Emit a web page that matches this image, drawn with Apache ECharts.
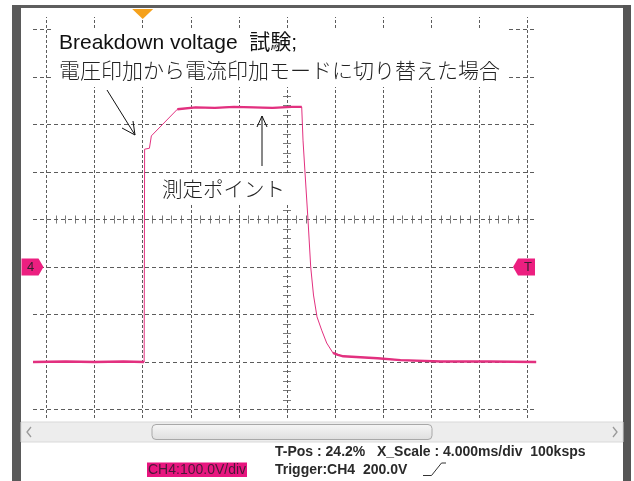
<!DOCTYPE html>
<html><head><meta charset="utf-8">
<script src="https://cdn.jsdelivr.net/npm/echarts@6/dist/echarts.min.js"></script>
<style>html,body{margin:0;padding:0;background:#fff}#c{width:634px;height:481px}</style>
</head><body><div id="c"></div>
<script>
// Trace of CH4: time in divisions (4.000 ms/div), voltage in V (100.0 V/div)
const traceX = [-0.28, 0.4, 1.0, 1.6, 2.03, 2.04, 2.07, 2.14, 2.16, 2.18, 2.72, 3.1, 3.5, 3.9, 4.3, 4.7, 5.1, 5.306, 5.333, 5.374, 5.437, 5.493, 5.551, 5.624, 5.721, 5.825, 5.956, 6.06, 6.17, 6.88, 7.36, 8.2, 9.2, 10.18];
const traceV = [0, 1, 0, 1, 0, 448, 446, 450, 452, 476, 532, 536, 535, 537, 536, 535, 537, 537, 467, 400, 299, 200, 141, 95, 67, 40, 19, 15, 12, 8, 4, 1, 1, 0];

// Graticule
const gridDivX = [0, 1, 2, 3, 4, 5, 6, 7, 8, 9, 10];
const gridLevelV = [-100, 0, 100, 200, 300, 400, 500, 600, 700];
const triggerLevelV = 200;
const triggerTimeDiv = 2;

// Texts
const annotationLine1 = 'Breakdown voltage  試験;';
const annotationLine2 = '電圧印加から電流印加モードに切り替えた場合';
const annotationPoint = '測定ポイント';
const statusLine1 = 'T-Pos : 24.2%   X_Scale : 4.000ms/div  100ksps';
const statusLine2 = 'Trigger:CH4  200.0V';
const channelLabel = 'CH4:100.0V/div';
const channelMarker = '4';
const triggerMarker = 'T';

const PINK = '#e2307f';
const GRIDC = '#5c5c5c';
const TICKC = '#7a7a7a';
const FONT = '"Liberation Sans", Arial, "Noto Sans CJK JP", sans-serif';

const chart = echarts.init(document.getElementById('c'), null, {renderer: 'canvas'});

const traceData = traceX.map((x, i) => [x, traceV[i]]);
const bandData = traceX.map((x, i) => (traceV[i] < 20 || traceV[i] > 525) ? [x, traceV[i]] : [x, null]);

const vLines = gridDivX.map(x => ({xAxis: x, lineStyle: {type: [3, 2], color: GRIDC, width: 1}}));
const hLines = gridLevelV.map(v => ({yAxis: v, lineStyle: {type: [4, 3], color: GRIDC, width: 1}}));

function tickAxis(pos, min, max, gridIndex) {
  return {
    type: 'value', gridIndex, position: pos, min, max, interval: 1,
    axisLine: {show: false, onZero: true},
    axisTick: {show: true, inside: false, length: 4, lineStyle: {color: TICKC, width: 1}},
    minorTick: {show: true, splitNumber: 5, length: 4, lineStyle: {color: TICKC, width: 1}},
    axisLabel: {show: false}, splitLine: {show: false}, minorSplitLine: {show: false}
  };
}

chart.setOption({
  animation: false,
  backgroundColor: '#ffffff',
  grid: [
    {left: 33, top: 17, width: 503, height: 401, containLabel: false},
    {left: 46.5, top: 29.5, width: 481, height: 380, containLabel: false}
  ],
  xAxis: [
    {type: 'value', gridIndex: 0, min: -0.2807, max: 10.177, show: false, splitLine: {show: false}},
    tickAxis('bottom', -5, 5, 1),
    tickAxis('top', -5, 5, 1)
  ],
  yAxis: [
    {type: 'value', gridIndex: 0, min: -117.9, max: 726.3, show: false, splitLine: {show: false}},
    tickAxis('left', -4, 4, 1),
    tickAxis('right', -4, 4, 1)
  ],
  series: [
    {
      type: 'line', name: 'graticule', xAxisIndex: 0, yAxisIndex: 0, data: [], z: 1, silent: true,
      markLine: {silent: true, symbol: ['none', 'none'], label: {show: false}, animation: false,
        data: vLines.concat(hLines)}
    },
    {
      type: 'line', name: 'CH4', xAxisIndex: 0, yAxisIndex: 0, data: traceData, z: 5,
      showSymbol: false, symbol: 'none', lineStyle: {color: PINK, width: 1}
    },
    {
      type: 'line', name: 'CH4 noise', xAxisIndex: 0, yAxisIndex: 0, data: bandData, z: 5,
      showSymbol: false, symbol: 'none', connectNulls: false, lineStyle: {color: PINK, width: 2.4}
    }
  ]
});

const xT = chart.convertToPixel({xAxisIndex: 0}, triggerTimeDiv);
const yT = chart.convertToPixel({yAxisIndex: 0}, triggerLevelV);
const Z = 50;

chart.setOption({
  graphic: [
    // frame
    {type: 'rect', z: Z, shape: {x: 12, y: 5, width: 619, height: 3}, style: {fill: '#5e5e5e'}},
    {type: 'rect', z: Z, shape: {x: 12, y: 5, width: 9, height: 476}, style: {fill: '#5a5a5a'}},
    {type: 'rect', z: Z, shape: {x: 623, y: 5, width: 8, height: 476}, style: {fill: '#555555'}},
    // scrollbar
    {type: 'rect', z: Z, shape: {x: 21, y: 422, width: 602, height: 20}, style: {fill: '#ededed', stroke: '#d9d9d9', lineWidth: 1}},
    {type: 'rect', z: Z + 1, shape: {x: 152, y: 424.5, width: 280, height: 15, r: 4},
      style: {fill: new echarts.graphic.LinearGradient(0, 0, 0, 1, [{offset: 0, color: '#f6f6f6'}, {offset: 1, color: '#dedede'}]), stroke: '#a8a8a8', lineWidth: 1}},
    {type: 'polyline', z: Z + 1, shape: {points: [[31, 427], [27, 432], [31, 437]]}, style: {stroke: '#9a9a9a', lineWidth: 1.3, fill: null}},
    {type: 'polyline', z: Z + 1, shape: {points: [[613, 427], [617, 432], [613, 437]]}, style: {stroke: '#9a9a9a', lineWidth: 1.3, fill: null}},
    // annotation boxes
    {type: 'rect', z: Z, shape: {x: 51, y: 28, width: 456, height: 59}, style: {fill: '#ffffff'}},
    {type: 'rect', z: Z, shape: {x: 155, y: 175, width: 136, height: 30}, style: {fill: '#ffffff'}},
    {type: 'text', z: Z + 1, style: {text: annotationLine1, x: 59, y: 43, font: '21px ' + FONT, fill: '#111111', align: 'left', verticalAlign: 'middle'}},
    {type: 'text', z: Z + 1, style: {text: annotationLine2, x: 59, y: 72, font: '300 21px ' + FONT, fill: '#222222', align: 'left', verticalAlign: 'middle'}},
    {type: 'text', z: Z + 1, style: {text: annotationPoint, x: 162, y: 191, font: '300 20.5px ' + FONT, fill: '#222222', align: 'left', verticalAlign: 'middle'}},
    // arrows
    {type: 'polyline', z: Z + 2, shape: {points: [[107, 90], [135, 135]]}, style: {stroke: '#111', lineWidth: 1, fill: null}},
    {type: 'polyline', z: Z + 2, shape: {points: [[122, 128], [135, 135], [133, 121]]}, style: {stroke: '#111', lineWidth: 1, fill: null}},
    {type: 'polyline', z: Z + 2, shape: {points: [[262, 166], [262, 116]]}, style: {stroke: '#111', lineWidth: 1, fill: null}},
    {type: 'polyline', z: Z + 2, shape: {points: [[257, 127], [262, 116], [267, 127]]}, style: {stroke: '#111', lineWidth: 1, fill: null}},
    // trigger position marker
    {type: 'polygon', z: Z + 2, shape: {points: [[xT - 10.5, 9], [xT + 10.5, 9], [xT, 19]]}, style: {fill: '#f5a11c'}},
    // channel ground marker and trigger level marker
    {type: 'polygon', z: Z + 2, shape: {points: [[21.5, yT - 8.5], [38.5, yT - 8.5], [43.5, yT], [38.5, yT + 8.5], [21.5, yT + 8.5]]}, style: {fill: '#ec1f80'}},
    {type: 'text', z: Z + 3, style: {text: channelMarker, x: 30.5, y: yT, font: '13px ' + FONT, fill: '#3a2030', align: 'center', verticalAlign: 'middle'}},
    {type: 'polygon', z: Z + 2, shape: {points: [[535, yT - 8.5], [518, yT - 8.5], [513, yT], [518, yT + 8.5], [535, yT + 8.5]]}, style: {fill: '#ec1f80'}},
    {type: 'text', z: Z + 3, style: {text: triggerMarker, x: 528, y: yT, font: '13px ' + FONT, fill: '#3a2030', align: 'center', verticalAlign: 'middle'}},
    // status
    {type: 'rect', z: Z, shape: {x: 147, y: 462.5, width: 100, height: 14.5}, style: {fill: '#e8157f'}},
    {type: 'text', z: Z + 1, style: {text: channelLabel, x: 148, y: 470, font: '14px ' + FONT, fill: '#4a1838', align: 'left', verticalAlign: 'middle'}},
    {type: 'text', z: Z + 1, style: {text: statusLine1, x: 275, y: 452.5, font: 'bold 14px ' + FONT, fill: '#2a2a2a', align: 'left', verticalAlign: 'middle'}},
    {type: 'text', z: Z + 1, style: {text: statusLine2, x: 275, y: 470, font: 'bold 14px ' + FONT, fill: '#2a2a2a', align: 'left', verticalAlign: 'middle'}},
    {type: 'polyline', z: Z + 1, shape: {points: [[423, 475.5], [431.5, 475.5], [441.5, 463], [446, 463]]}, style: {stroke: '#333', lineWidth: 1, fill: null}}
  ]
});
</script>
</body></html>
